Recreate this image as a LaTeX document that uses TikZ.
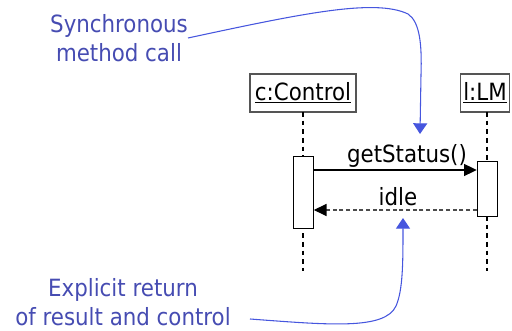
\documentclass[tikz,border=0pt]{standalone}
\usepackage{fontspec}
\setmainfont{DejaVu Sans Condensed}
\usetikzlibrary{arrows.meta}
\definecolor{notetext}{RGB}{70,76,178}
\definecolor{noteline}{RGB}{70,86,222}
\definecolor{boxline}{RGB}{85,85,85}
\tikzset{
  x=0.75pt, y=-0.75pt,
  lbl/.style={font=\fontsize{17.8}{21.5}\selectfont, inner sep=0pt},
  objbox/.style={lbl, draw=boxline, fill=white, line width=0.9pt, minimum height=28.5pt, inner xsep=2pt},
  lifeline/.style={draw=black, line width=0.8pt, dash pattern=on 3.5pt off 3pt},
  actbox/.style={draw=black, fill=white, line width=0.8pt},
  callmsg/.style={draw=black, line width=0.8pt, -{Triangle[length=9.5pt,width=9pt]}},
  retmsg/.style={draw=black!70, line width=0.8pt, dash pattern=on 3pt off 2pt, -{Triangle[length=9.5pt,width=9pt,color=black,fill=black]}},
  note/.style={lbl, text=notetext, align=center},
  noteline/.style={draw=noteline, line width=0.8pt, -{Triangle[length=8pt,width=10.5pt]}}
}
\begin{document}
\begin{tikzpicture}
\useasboundingbox (0,0) rectangle (512,331);

% objects and lifelines
\node[objbox, minimum width=79.5pt] (ctl) at (303,93) {\underline{c:Control}};
\node[objbox, minimum width=36pt] (lm) at (485,93) {\underline{l:LM}};
\coordinate (ctlend) at (303,271);
\coordinate (lmend) at (487,271);
\draw[lifeline] (303,112) -- (ctlend);
\draw[lifeline] (487,112) -- (lmend);

% activations
\node[actbox, minimum width=15pt, minimum height=54pt, inner sep=0pt] (actc) at (303.3,192.2) {};
\node[actbox, minimum width=15pt, minimum height=41pt, inner sep=0pt] (actl) at (487.3,188.8) {};

% messages
\coordinate (cs) at (actc.east |- 0,170);
\coordinate (ce) at (actl.west |- 0,170);
\draw[callmsg] (cs) -- (ce);
\node[lbl, anchor=base] (getst) at (407,163) {getStatus()};
\coordinate (rs) at (actl.west |- 0,210);
\coordinate (re) at (actc.east |- 0,210);
\draw[retmsg] (rs) -- (re);
\node[lbl, anchor=base] (idle) at (398,206) {idle};

% annotations
\node[note] (syncnote) at (119,38) {Synchronous\\method call};
\node[note] (retnote) at (123,302) {Explicit return\\of result and control};
\coordinate (synctip) at (420,134);
\coordinate (rettip) at (403,218);
\draw[noteline] (188,38) .. controls (300,14) and (375,-2) .. (408,14)
  .. controls (420,22) and (422,45) .. (421,75) -- (synctip);
\draw[noteline] (250,319) .. controls (330,325) and (385,330) .. (396,306)
  .. controls (403,290) and (403,262) .. (rettip);
\end{tikzpicture}
\end{document}
